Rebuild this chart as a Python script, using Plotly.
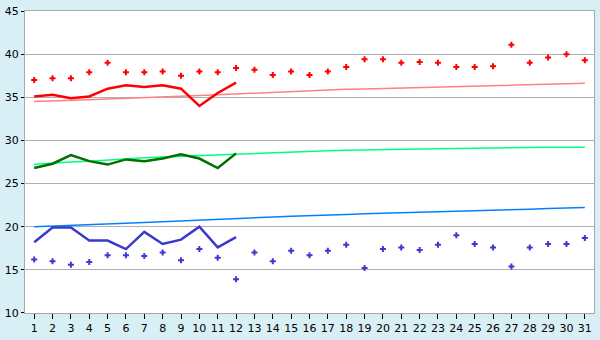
import plotly.graph_objects as go

days = list(range(1, 32))

max_record = [37.0, 37.2, 37.2, 37.9, 39.0, 37.9, 37.9, 38.0, 37.5, 38.0,
              37.9, 38.4, 38.2, 37.6, 38.0, 37.6, 38.0, 38.5, 39.4, 39.4,
              39.0, 39.1, 39.0, 38.5, 38.5, 38.6, 41.1, 39.0, 39.6, 40.0, 39.3]
min_record = [16.2, 16.0, 15.6, 15.9, 16.7, 16.7, 16.6, 17.0, 16.1, 17.4,
              16.4, 13.9, 17.0, 16.0, 17.2, 16.7, 17.2, 17.9, 15.2, 17.4,
              17.6, 17.3, 17.9, 19.0, 18.0, 17.6, 15.4, 17.6, 18.0, 18.0, 18.7]

obs_days = list(range(1, 13))
max_obs = [35.1, 35.3, 34.9, 35.1, 36.0, 36.4, 36.2, 36.4, 36.0, 34.0, 35.5, 36.7]
mean_obs = [26.8, 27.3, 28.3, 27.6, 27.2, 27.8, 27.6, 27.9, 28.4, 27.9, 26.8, 28.5]
min_obs = [18.2, 19.9, 19.9, 18.4, 18.4, 17.4, 19.4, 18.0, 18.5, 20.0, 17.6, 18.8]

max_normal = [34.5, 34.55, 34.65, 34.72, 34.8, 34.87, 34.93, 35.0, 35.1, 35.2,
              35.3, 35.4, 35.5, 35.6, 35.7, 35.8, 35.88, 35.93, 35.97, 36.02,
              36.07, 36.12, 36.18, 36.23, 36.28, 36.34, 36.4, 36.46, 36.52, 36.57, 36.63]
mean_normal = [27.25, 27.4, 27.5, 27.6, 27.75, 27.88, 27.98, 28.07, 28.15, 28.25,
               28.33, 28.42, 28.5, 28.6, 28.7, 28.76, 28.8, 28.85, 28.9, 28.95,
               28.98, 29.0, 29.03, 29.06, 29.1, 29.13, 29.16, 29.18, 29.2, 29.21, 29.22]
min_normal = [20.0, 20.07, 20.13, 20.2, 20.3, 20.4, 20.5, 20.6, 20.7, 20.8,
              20.9, 20.98, 21.05, 21.12, 21.2, 21.3, 21.35, 21.42, 21.5, 21.55,
              21.62, 21.7, 21.75, 21.82, 21.88, 21.93, 21.98, 22.03, 22.1, 22.15, 22.22]

y_ticks = [10, 15, 20, 25, 30, 35, 40, 45]

fig = go.Figure()

# normals (thin lines)
fig.add_trace(go.Scatter(x=days, y=max_normal, mode="lines",
                         line=dict(color="#ff8080", width=1.5), hoverinfo="skip"))
fig.add_trace(go.Scatter(x=days, y=mean_normal, mode="lines",
                         line=dict(color="#00ff80", width=1.5), hoverinfo="skip"))
fig.add_trace(go.Scatter(x=days, y=min_normal, mode="lines",
                         line=dict(color="#0080ff", width=1.5), hoverinfo="skip"))

# observed lines
fig.add_trace(go.Scatter(x=obs_days, y=max_obs, mode="lines",
                         line=dict(color="#ff0000", width=2.5)))
fig.add_trace(go.Scatter(x=obs_days, y=mean_obs, mode="lines",
                         line=dict(color="#007000", width=2.5)))
fig.add_trace(go.Scatter(x=obs_days, y=min_obs, mode="lines",
                         line=dict(color="#3a3acc", width=2.5)))

# records (dots)
fig.add_trace(go.Scatter(x=days, y=max_record, mode="markers",
                         marker=dict(symbol="cross", size=5, color="#ff0000",
                                     line=dict(width=0))))
fig.add_trace(go.Scatter(x=days, y=min_record, mode="markers",
                         marker=dict(symbol="cross", size=5, color="#3a3acc",
                                     line=dict(width=0))))

fig.update_layout(
    width=600, height=340,
    margin=dict(l=21, r=5, t=5, b=20, pad=0),
    paper_bgcolor="#d9eff6",
    plot_bgcolor="#ffffff",
    showlegend=False,
    font=dict(family="DejaVu Sans", size=11, color="#000000"),
)
fig.update_xaxes(
    range=[0.5, 31.5], tickmode="array", tickvals=days,
    ticktext=[str(d) for d in days],
    showgrid=False, zeroline=False,
    showline=True, linecolor="#a8a8a8", linewidth=1, mirror=True,
    ticks="outside", ticklen=5, tickcolor="#000000", tickwidth=1,
    tickfont=dict(size=11),
)
fig.update_yaxes(
    range=[9.995, 45.005], tickmode="array", tickvals=y_ticks,
    ticktext=[str(v) for v in y_ticks],
    showgrid=True, gridcolor="#b0b0b0", gridwidth=1, zeroline=False,
    showline=True, linecolor="#a8a8a8", linewidth=1, mirror=True,
    ticks="outside", ticklen=3, tickcolor="#000000", tickwidth=1,
    tickfont=dict(size=11), ticklabeloverflow="allow",
)

fig.write_html("out.html")
